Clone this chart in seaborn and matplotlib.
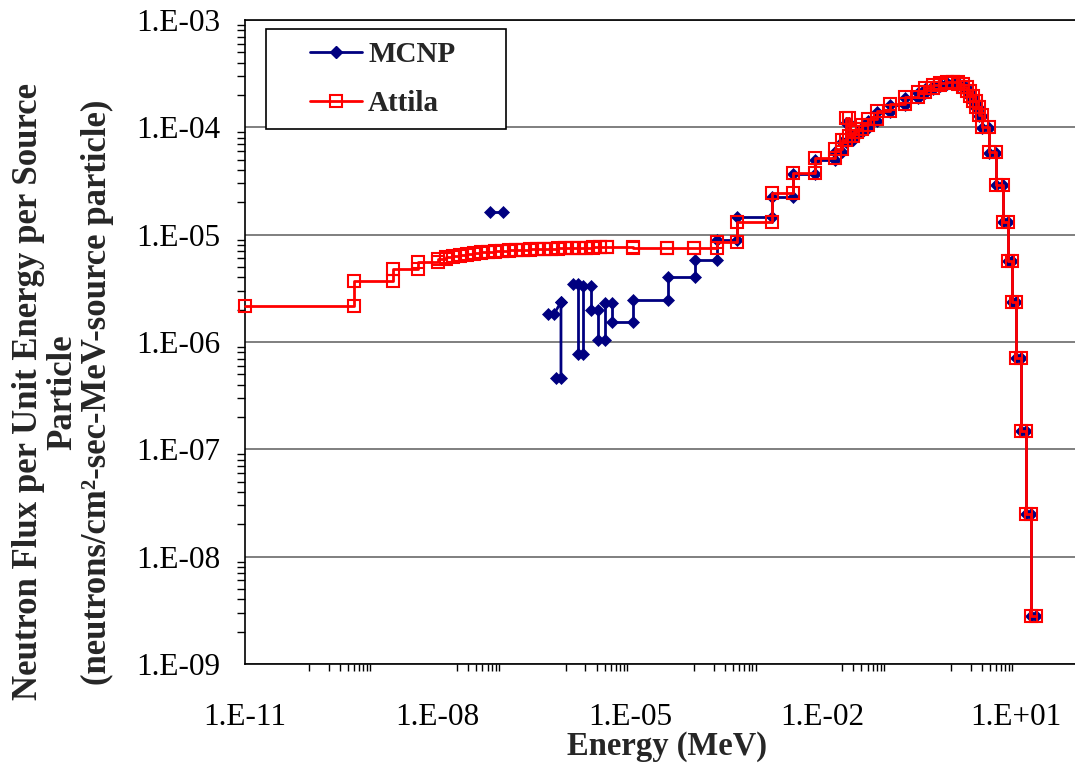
import numpy as np
import pandas as pd
import matplotlib
matplotlib.use("Agg")
import matplotlib.pyplot as plt
from matplotlib.ticker import FixedLocator, FuncFormatter, LogLocator, NullFormatter
from matplotlib.patches import Rectangle
from matplotlib.lines import Line2D
from matplotlib.font_manager import FontProperties
import seaborn as sns

# Attila multigroup spectrum: group boundaries (MeV) and flux per group
attila_edges = [
    1e-11, 5.0e-10, 2.0e-9, 5.0e-9, 1.0e-8, 1.35e-8, 1.75e-8, 2.25e-8, 2.9e-8,
    3.7e-8, 4.75e-8, 6.1e-8, 7.8e-8, 1.0e-7, 1.3e-7, 1.65e-7, 2.15e-7, 2.75e-7,
    3.5e-7, 4.5e-7, 5.8e-7, 7.5e-7, 9.6e-7, 1.25e-6, 1.6e-6, 2.05e-6, 2.65e-6,
    3.4e-6, 4.35e-6, 1.1e-5, 3.75e-5, 1.0e-4, 2.25e-4, 4.6e-4, 1.6e-3, 3.45e-3,
    7.5e-3, 1.55e-2, 2.0e-2, 2.3e-2, 2.55e-2, 2.95e-2, 3.4e-2, 4.1e-2, 5.0e-2,
    7.0e-2, 0.111, 0.19, 0.30, 0.39, 0.52, 0.67, 0.86, 1.07, 1.28, 1.53, 1.76,
    1.96, 2.19, 2.43, 2.71, 3.0, 3.9, 5.0, 6.4, 7.7, 8.85, 10.2, 12.2, 14.6,
    17.5, 20.9,
]
attila_flux = [
    2.15e-6, 3.7e-6, 4.8e-6, 5.55e-6, 5.9e-6, 6.2e-6, 6.3e-6, 6.45e-6, 6.6e-6,
    6.75e-6, 6.9e-6, 6.9e-6, 7.0e-6, 7.05e-6, 7.2e-6, 7.2e-6, 7.2e-6, 7.3e-6,
    7.35e-6, 7.35e-6, 7.35e-6, 7.5e-6, 7.5e-6, 7.5e-6, 7.5e-6, 7.5e-6, 7.65e-6,
    7.65e-6, 7.65e-6, 7.5e-6, 7.5e-6, 7.5e-6, 8.5e-6, 1.31e-5, 2.45e-5, 3.75e-5,
    5.2e-5, 6.3e-5, 7.6e-5, 1.22e-4, 8.3e-5, 9.0e-5, 9.6e-5, 1.05e-4, 1.2e-4,
    1.42e-4, 1.65e-4, 1.92e-4, 2.13e-4, 2.32e-4, 2.48e-4, 2.59e-4, 2.64e-4,
    2.64e-4, 2.53e-4, 2.37e-4, 2.18e-4, 1.96e-4, 1.76e-4, 1.55e-4, 1.30e-4,
    1.01e-4, 5.9e-5, 2.9e-5, 1.31e-5, 5.7e-6, 2.35e-6, 7.1e-7, 1.48e-7, 2.5e-8,
    2.8e-9,
]

# MCNP tally bins: lower edge, upper edge (MeV) and flux; NaN rows are empty tallies
nan = np.nan
mcnp_lo = [
    6.55e-8, nan, 5.25e-7, 8.35e-7, 8.35e-7, nan, 1.29e-6, 1.54e-6, 1.84e-6,
    2.45e-6, 3.15e-6, 4.05e-6, 5.2e-6, 1.11e-5, 3.85e-5, 1.02e-4, 2.25e-4,
    4.6e-4, 1.6e-3, 3.45e-3, 7.5e-3, 1.55e-2, 2.0e-2, 2.3e-2, 2.55e-2, 2.95e-2,
    3.4e-2, 4.1e-2, 5.0e-2, 7.0e-2, 0.111, 0.19, 0.30, 0.39, 0.52, 0.67, 0.86,
    1.07, 1.28, 1.53, 1.76, 1.96, 2.19, 2.43, 2.71, 3.0, 3.9, 5.0, 6.4, 7.7,
    8.85, 10.2, 12.2, 14.6, 17.5,
]
mcnp_hi = [
    1.05e-7, nan, 6.5e-7, 8.35e-7, 7.0e-7, nan, 1.54e-6, 1.84e-6, 2.45e-6,
    3.15e-6, 4.05e-6, 5.2e-6, 1.11e-5, 3.85e-5, 1.02e-4, 2.25e-4, 4.6e-4,
    1.6e-3, 3.45e-3, 7.5e-3, 1.55e-2, 2.0e-2, 2.3e-2, 2.55e-2, 2.95e-2, 3.4e-2,
    4.1e-2, 5.0e-2, 7.0e-2, 0.111, 0.19, 0.30, 0.39, 0.52, 0.67, 0.86, 1.07,
    1.28, 1.53, 1.76, 1.96, 2.19, 2.43, 2.71, 3.0, 3.9, 5.0, 6.4, 7.7, 8.85,
    10.2, 12.2, 14.6, 17.5, 20.9,
]
mcnp_flux = [
    1.62e-5, nan, 1.82e-6, 2.35e-6, 4.6e-7, nan, 3.46e-6, 7.7e-7, 3.32e-6,
    1.98e-6, 1.04e-6, 2.30e-6, 1.53e-6, 2.46e-6, 4.02e-6, 5.8e-6, 8.9e-6,
    1.46e-5, 2.24e-5, 3.67e-5, 4.96e-5, 5.9e-5, 7.3e-5, 1.10e-4, 7.6e-5, 8.5e-5,
    9.0e-5, 9.8e-5, 1.14e-4, 1.39e-4, 1.61e-4, 1.88e-4, 2.09e-4, 2.28e-4,
    2.43e-4, 2.53e-4, 2.59e-4, 2.59e-4, 2.48e-4, 2.32e-4, 2.13e-4, 1.92e-4,
    1.72e-4, 1.52e-4, 1.28e-4, 9.8e-5, 5.8e-5, 2.9e-5, 1.3e-5, 5.7e-6, 2.35e-6,
    7.1e-7, 1.48e-7, 2.5e-8, 2.8e-9,
]

series_names = ["MCNP", "Attila"]
x_label_exponents = [-11, -8, -5, -2, 1]
x_minor_decades = [-10, -8, -6, -4, -2, 0]
y_label_exponents = [-9, -8, -7, -6, -5, -4, -3]

NAVY = "#000080"
RED = "#FF0000"


def step_frame(lo, hi, flux):
    """Histogram outline: each bin contributes its two edge points."""
    rows, seg = [], 0
    for a, b, v in zip(lo, hi, flux):
        if np.isnan(v):
            seg += 1
            continue
        rows.append((a, v, seg))
        rows.append((b, v, seg))
    return pd.DataFrame(rows, columns=["energy", "flux", "segment"])


mcnp_df = step_frame(mcnp_lo, mcnp_hi, mcnp_flux)
attila_df = step_frame(attila_edges[:-1], attila_edges[1:], attila_flux)

sns.set_theme(style="white")
plt.rcParams["font.family"] = ["Liberation Serif", "DejaVu Sans"]

W, H = 1075, 766
fig = plt.figure(figsize=(W / 100, H / 100), dpi=100)
ax_left, ax_top, ax_bottom = 245, 20, 664
dec_px = 64.2
ax = fig.add_axes([ax_left / W, 1 - ax_bottom / H, 13 * dec_px / W, (ax_bottom - ax_top) / H])
ax.set_xscale("log")
ax.set_yscale("log")

sns.lineplot(data=mcnp_df, x="energy", y="flux", units="segment", estimator=None,
             sort=False, color=NAVY, linewidth=2.0, marker="D", markersize=6.5,
             markerfacecolor=NAVY, markeredgecolor=NAVY, markeredgewidth=0.5,
             legend=False, ax=ax, zorder=3, clip_on=False)
sns.lineplot(data=attila_df, x="energy", y="flux", units="segment", estimator=None,
             sort=False, color=RED, linewidth=2.0, marker="s", markersize=9,
             markerfacecolor="none", markeredgecolor=RED, markeredgewidth=1.5,
             legend=False, ax=ax, zorder=4, clip_on=False)

ax.set_xlim(1e-11, 1e2)
ax.set_ylim(1e-9, 1e-3)


def sci_label(v, pos):
    return f"1.E{int(round(np.log10(v))):+03d}"


ax.xaxis.set_major_locator(FixedLocator([10.0 ** e for e in x_label_exponents]))
ax.xaxis.set_minor_locator(FixedLocator(
    [k * 10.0 ** d for d in x_minor_decades for k in range(1, 10)]))
ax.xaxis.set_major_formatter(FuncFormatter(sci_label))
ax.xaxis.set_minor_formatter(NullFormatter())
ax.yaxis.set_major_locator(FixedLocator([10.0 ** e for e in y_label_exponents]))
ax.yaxis.set_minor_locator(LogLocator(base=10, subs=np.arange(2, 10), numticks=20))
ax.yaxis.set_major_formatter(FuncFormatter(sci_label))
ax.yaxis.set_minor_formatter(NullFormatter())

ax.yaxis.grid(True, which="major", color="#6a6a6a", linewidth=1.2)
ax.xaxis.grid(False)
for side in ["left", "bottom", "top", "right"]:
    ax.spines[side].set_color("black")
    ax.spines[side].set_linewidth(1.2)

ax.tick_params(axis="y", which="major", direction="inout", length=10, width=1,
               color="black", labelsize=22.5, pad=13, labelcolor="black")
ax.tick_params(axis="y", which="minor", direction="out", length=6, width=1,
               color="black", left=True)
ax.tick_params(axis="x", which="major", direction="out", length=8, width=1,
               color="black", labelsize=22.5, pad=20, labelcolor="black")
ax.tick_params(axis="x", which="minor", direction="out", length=5, width=1,
               color="black", bottom=True)
ax.set_xlabel("")
ax.set_ylabel("")

# Axis titles
fig.text(667 / W, 1 - 746 / H, "Energy (MeV)", ha="center", va="center",
         fontsize=23.5, fontweight="bold")
fig.text(63 / W, 1 - 392 / H,
         "Neutron Flux per Unit Energy per Source\nParticle\n"
         "(neutrons/cm\u00b2-sec-MeV-source particle)",
         ha="center", va="center", rotation=90, multialignment="center",
         fontsize=25, fontweight="bold", linespacing=1.05)

# Legend box
x0 = (266 - ax_left) / (13 * dec_px)
x1 = (506 - ax_left) / (13 * dec_px)
y1 = (ax_bottom - 29) / (ax_bottom - ax_top)
y0 = (ax_bottom - 129) / (ax_bottom - ax_top)
ax.add_patch(Rectangle((x0, y0), x1 - x0, y1 - y0, transform=ax.transAxes,
                       facecolor="white", edgecolor="black", linewidth=1.2,
                       zorder=6))
handles = [
    Line2D([], [], color=NAVY, linewidth=2.0, marker="D", markersize=6.5,
           markerfacecolor=NAVY, markeredgecolor=NAVY),
    Line2D([], [], color=RED, linewidth=2.0, marker="s", markersize=9,
           markerfacecolor="none", markeredgecolor=RED, markeredgewidth=1.5),
]
leg = ax.legend(handles, series_names, loc="center",
                bbox_to_anchor=((x0 + x1) / 2 - 0.004, (y0 + y1) / 2),
                frameon=False, handlelength=1.8, handletextpad=0.2,
                labelspacing=0.75, borderaxespad=0, borderpad=0,
                prop=FontProperties(family="Liberation Serif", weight="bold", size=21))
leg.set_zorder(7)

fig.savefig("out.png", dpi=100)
